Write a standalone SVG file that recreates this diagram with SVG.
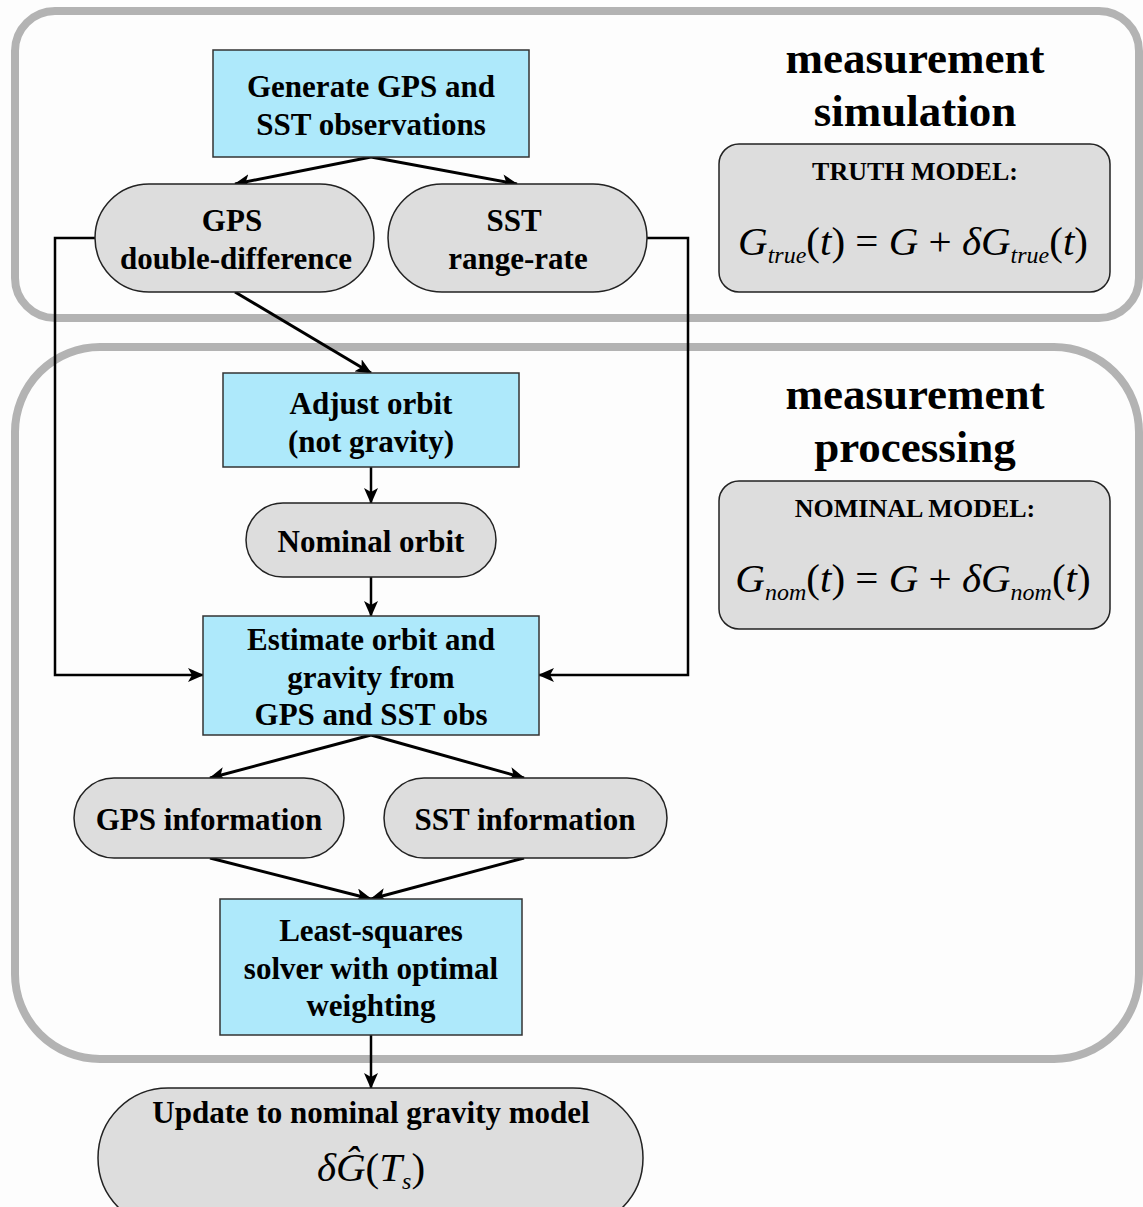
<svg xmlns="http://www.w3.org/2000/svg" width="1143" height="1207" viewBox="0 0 1143 1207">
<defs>
<style>
.bg{fill:#fdfdfd}
.cont{fill:none;stroke:#b3b3b3;stroke-width:8}
.box{fill:#aee9fb;stroke:#333;stroke-width:1.5}
.pill{fill:#dddddd;stroke:#222;stroke-width:1.5}
.model{fill:#dddddd;stroke:#222;stroke-width:1.5}
.t{font-family:"Liberation Serif","Times New Roman",serif;font-weight:bold;font-size:31px;fill:#000;text-anchor:middle}
.title{font-family:"Liberation Serif","Times New Roman",serif;font-weight:bold;font-size:45px;fill:#000;text-anchor:middle}
.mt{font-family:"Liberation Serif","Times New Roman",serif;font-weight:bold;font-size:26px;fill:#000;text-anchor:middle}
.eq{font-family:"Liberation Serif","Times New Roman",serif;font-size:41px;fill:#000;text-anchor:middle}
.i{font-style:italic}
.c{fill:none;stroke:#000;stroke-width:3}
.c2{fill:none;stroke:#000;stroke-width:2.5}
</style>
<marker id="ah" viewBox="0 0 16 14" refX="15" refY="7" markerWidth="16" markerHeight="14" markerUnits="userSpaceOnUse" orient="auto">
<path d="M0,0 L16,7 L0,14 L4,7 Z" fill="#000"/>
</marker>
</defs>
<rect class="bg" x="0" y="0" width="1143" height="1207"/>
<g id="sim-container">
<rect class="cont" x="15" y="11" width="1124" height="307" rx="40" ry="40"/>
<text class="title" x="915" y="73">measurement</text>
<text class="title" x="915" y="126">simulation</text>
</g>
<g id="proc-container">
<rect class="cont" x="15" y="347" width="1124" height="712" rx="85" ry="85"/>
<text class="title" x="915" y="409">measurement</text>
<text class="title" x="915" y="462">processing</text>
</g>
<g id="connectors">
<path class="c" d="M371,157 L235,184" marker-end="url(#ah)"/>
<path class="c" d="M371,157 L517,184" marker-end="url(#ah)"/>
<path class="c2" d="M95,238 L55,238 L55,675 L203,675" marker-end="url(#ah)"/>
<path class="c2" d="M647,238 L688,238 L688,675 L539,675" marker-end="url(#ah)"/>
<path class="c" d="M235,292 L371,373" marker-end="url(#ah)"/>
<path class="c2" d="M371,467 L371,503" marker-end="url(#ah)"/>
<path class="c2" d="M371,577 L371,616" marker-end="url(#ah)"/>
<path class="c" d="M371,735 L210,778" marker-end="url(#ah)"/>
<path class="c" d="M371,735 L524,778" marker-end="url(#ah)"/>
<path class="c" d="M210,858 L371,899" marker-end="url(#ah)"/>
<path class="c" d="M524,858 L371,899" marker-end="url(#ah)"/>
<path class="c2" d="M371,1035 L371,1088" marker-end="url(#ah)"/>
</g>
<g id="generate">
<rect class="box" x="213" y="50" width="316" height="107"/>
<text class="t" x="371" y="97">Generate GPS and</text>
<text class="t" x="371" y="135">SST observations</text>
</g>
<g id="gps-dd">
<rect class="pill" x="95" y="184" width="279" height="108" rx="54" ry="54"/>
<text class="t" x="232" y="231">GPS</text>
<text class="t" x="236" y="269">double-difference</text>
</g>
<g id="sst-rr">
<rect class="pill" x="388" y="184" width="259" height="108" rx="54" ry="54"/>
<text class="t" x="514" y="231">SST</text>
<text class="t" x="518" y="269">range-rate</text>
</g>
<g id="truth-model">
<rect class="model" x="719" y="144" width="391" height="148" rx="20" ry="20"/>
<text class="mt" x="915" y="180">TRUTH MODEL:</text>
<text class="eq" x="913" y="255"><tspan class="i">G</tspan><tspan class="i" font-size="24" dy="8">true</tspan><tspan dy="-8">(</tspan><tspan class="i">t</tspan><tspan>) = </tspan><tspan class="i">G</tspan><tspan> + </tspan><tspan class="i">δG</tspan><tspan class="i" font-size="24" dy="8">true</tspan><tspan dy="-8">(</tspan><tspan class="i">t</tspan><tspan>)</tspan></text>
</g>
<g id="adjust">
<rect class="box" x="223" y="373" width="296" height="94"/>
<text class="t" x="371" y="414">Adjust orbit</text>
<text class="t" x="371" y="452">(not gravity)</text>
</g>
<g id="nominal-orbit">
<rect class="pill" x="246" y="503" width="250" height="74" rx="37" ry="37"/>
<text class="t" x="371" y="552">Nominal orbit</text>
</g>
<g id="nominal-model">
<rect class="model" x="719" y="481" width="391" height="148" rx="20" ry="20"/>
<text class="mt" x="915" y="517">NOMINAL MODEL:</text>
<text class="eq" x="913" y="592"><tspan class="i">G</tspan><tspan class="i" font-size="24" dy="8">nom</tspan><tspan dy="-8">(</tspan><tspan class="i">t</tspan><tspan>) = </tspan><tspan class="i">G</tspan><tspan> + </tspan><tspan class="i">δG</tspan><tspan class="i" font-size="24" dy="8">nom</tspan><tspan dy="-8">(</tspan><tspan class="i">t</tspan><tspan>)</tspan></text>
</g>
<g id="estimate">
<rect class="box" x="203" y="616" width="336" height="119"/>
<text class="t" x="371" y="650">Estimate orbit and</text>
<text class="t" x="371" y="688">gravity from</text>
<text class="t" x="371" y="725">GPS and SST obs</text>
</g>
<g id="gps-info">
<rect class="pill" x="74" y="778" width="270" height="80" rx="40" ry="40"/>
<text class="t" x="209" y="830">GPS information</text>
</g>
<g id="sst-info">
<rect class="pill" x="384" y="778" width="283" height="80" rx="40" ry="40"/>
<text class="t" x="525" y="830">SST information</text>
</g>
<g id="least-squares">
<rect class="box" x="220" y="899" width="302" height="136"/>
<text class="t" x="371" y="941">Least-squares</text>
<text class="t" x="371" y="979">solver with optimal</text>
<text class="t" x="371" y="1016">weighting</text>
</g>
<g id="update">
<rect class="pill" x="98" y="1088" width="545" height="140" rx="70" ry="70"/>
<text class="t" x="371" y="1123">Update to nominal gravity model</text>
<text class="eq" x="371" y="1181"><tspan class="i">δĜ</tspan><tspan>(</tspan><tspan class="i">T</tspan><tspan class="i" font-size="24" dy="8">s</tspan><tspan dy="-8">)</tspan></text>
</g>
</svg>
